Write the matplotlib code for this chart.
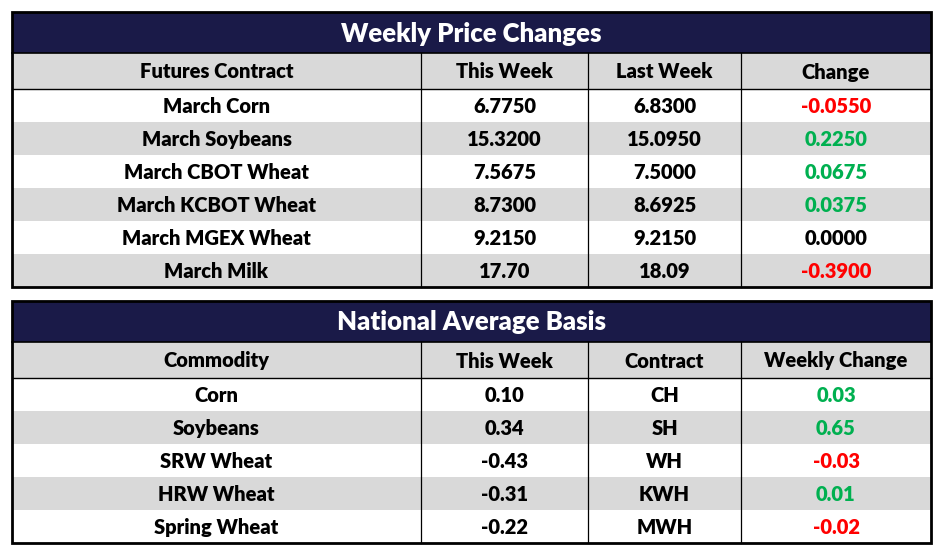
import matplotlib.pyplot as plt
from matplotlib.patches import Rectangle

# table data
price_title = "Weekly Price Changes"
price_cols = ["Futures Contract", "This Week", "Last Week", "Change"]
contracts = ["March Corn", "March Soybeans", "March CBOT Wheat",
             "March KCBOT Wheat", "March MGEX Wheat", "March Milk"]
this_week = ["6.7750", "15.3200", "7.5675", "8.7300", "9.2150", "17.70"]
last_week = ["6.8300", "15.0950", "7.5000", "8.6925", "9.2150", "18.09"]
change = ["-0.0550", "0.2250", "0.0675", "0.0375", "0.0000", "-0.3900"]

basis_title = "National Average Basis"
basis_cols = ["Commodity", "This Week", "Contract", "Weekly Change"]
commodities = ["Corn", "Soybeans", "SRW Wheat", "HRW Wheat", "Spring Wheat"]
basis_week = ["0.10", "0.34", "-0.43", "-0.31", "-0.22"]
basis_contract = ["CH", "SH", "WH", "KWH", "MWH"]
basis_change = ["0.03", "0.65", "-0.03", "0.01", "-0.02"]

NAVY = "#1a1a48"
GRAY = "#d9d9d9"
GREEN = "#00b050"
RED = "#ff0000"
FONT = "Lato"
WEIGHT = "heavy"

col_x = [12, 421, 588, 741, 931]
title_h = 41
head_h = 36
row_h = 33


def val_color(s):
    v = float(s)
    if v > 0:
        return GREEN
    if v < 0:
        return RED
    return "black"


def draw_table(ax, top, title, cols, rows, color_last):
    left, right = col_x[0], col_x[-1]
    n = len(rows)
    # title bar
    ax.add_patch(Rectangle((left, top), right - left, title_h, fc=NAVY, ec="none"))
    ax.text((left + right) / 2, top + title_h / 2 + 1, title, color="white",
            fontsize=18.5, fontweight=WEIGHT, family=FONT, ha="center", va="center")
    # header
    y = top + title_h
    ax.add_patch(Rectangle((left, y), right - left, head_h, fc=GRAY, ec="none"))
    for i, c in enumerate(cols):
        ax.text((col_x[i] + col_x[i + 1]) / 2, y + head_h / 2 + 1, c,
                fontsize=14.5, fontweight=WEIGHT, family=FONT, ha="center", va="center")
    ax.plot([left, right], [y, y], color="black", lw=1.2)
    y += head_h
    ax.plot([left, right], [y, y], color="black", lw=1.0)
    for r, row in enumerate(rows):
        ry = y + r * row_h
        fc = "white" if r % 2 == 0 else GRAY
        ax.add_patch(Rectangle((left, ry), right - left, row_h, fc=fc, ec="none", zorder=0))
        for i, val in enumerate(row):
            color = "black"
            if i == len(row) - 1 and color_last:
                color = val_color(val)
            ax.text((col_x[i] + col_x[i + 1]) / 2, ry + row_h / 2 + 1, val, color=color,
                    fontsize=14.5, fontweight=WEIGHT, family=FONT, ha="center", va="center")
    bottom = y + n * row_h
    for x in col_x[1:-1]:
        ax.plot([x, x], [top + title_h, bottom], color="black", lw=0.9)
    ax.add_patch(Rectangle((left, top), right - left, bottom - top, fc="none",
                           ec="black", lw=2.0, zorder=5))


fig = plt.figure(figsize=(9.45, 5.53), dpi=100)
ax = fig.add_axes([0, 0, 1, 1])
ax.set_xlim(0, 945)
ax.set_ylim(553, 0)
ax.axis("off")

price_rows = list(zip(contracts, this_week, last_week, change))
basis_rows = list(zip(commodities, basis_week, basis_contract, basis_change))
draw_table(ax, 12, price_title, price_cols, price_rows, True)
draw_table(ax, 301, basis_title, basis_cols, basis_rows, True)

fig.savefig("out.png", dpi=100, facecolor="white")
